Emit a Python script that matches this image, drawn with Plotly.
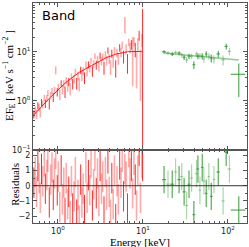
import plotly.graph_objects as go

# ---------------- data ----------------
red_E = [0.52, 0.54, 0.56, 0.58, 0.60, 0.62, 0.64, 0.66, 0.69, 0.71, 0.74, 0.76, 0.79, 0.82, 0.85,
         0.88, 0.91, 0.94, 0.98, 1.01, 1.05, 1.09, 1.13, 1.17, 1.21, 1.25, 1.30, 1.34, 1.39, 1.44,
         1.49, 1.55, 1.60, 1.66, 1.72, 1.78, 1.85, 1.91, 1.98, 2.05, 2.13, 2.20, 2.28, 2.36, 2.45,
         2.54, 2.63, 2.72, 2.82, 2.92, 3.03, 3.13, 3.25, 3.36, 3.48, 3.61, 3.74, 3.87, 4.01, 4.15,
         4.30, 4.46, 4.62, 4.78, 4.95, 5.13, 5.32, 5.51, 5.70, 5.91, 6.12, 6.34, 6.57, 6.80, 7.05,
         7.30, 7.56, 7.83, 8.11, 8.40, 8.70, 9.01, 9.34, 9.67, 9.90]
red_model = [0.52, 0.56, 0.60, 0.64, 0.68, 0.72, 0.77, 0.81, 0.88, 0.93, 1.00, 1.05, 1.13, 1.20, 1.28,
             1.36, 1.44, 1.52, 1.63, 1.72, 1.83, 1.95, 2.06, 2.18, 2.30, 2.42, 2.56, 2.68, 2.82, 2.96,
             3.10, 3.27, 3.40, 3.55, 3.70, 3.85, 4.00, 4.13, 4.28, 4.43, 4.60, 4.75, 4.90, 5.05, 5.25,
             5.45, 5.65, 5.85, 6.05, 6.25, 6.50, 6.70, 6.90, 7.10, 7.30, 7.50, 7.70, 7.90, 8.10, 8.30,
             8.50, 8.70, 8.85, 9.00, 9.15, 9.30, 9.45, 9.60, 9.72, 9.85, 9.95, 10.05, 10.12, 10.18, 10.22,
             10.25, 10.27, 10.28, 10.28, 10.27, 10.25, 10.22, 10.20, 10.17, 10.15]
red_flux = [0.54, 0.66, 0.55, 0.81, 0.75, 0.60, 0.94, 0.86, 1.16, 0.89, 1.14, 1.45, 0.88, 1.30, 1.59,
            1.20, 1.67, 4.30, 1.53, 1.93, 1.37, 2.30, 1.73, 2.26, 1.56, 2.64, 2.01, 2.49, 1.80, 3.12,
            2.27, 2.86, 3.95, 2.34, 3.30, 2.26, 4.29, 3.31, 4.13, 3.02, 5.60, 4.07, 5.52, 4.77, 6.70,
            4.11, 5.76, 8.20, 5.48, 7.20, 5.24, 8.40, 6.63, 7.95, 4.88, 8.85, 6.80, 10.8, 7.44, 5.10,
            9.38, 6.55, 10.7, 4.90, 9.74, 7.46, 12.3, 10.04, 14.0, 8.20, 38.0, 11.6, 6.30, 16.0, 12.4,
            14.3, 11.0, 16.5, 11.6, 5.80, 14.8, 22.0, 6.20, 18.0, 36.0]
red_err = [0.10, 0.11, 0.12, 0.13, 0.13, 0.14, 0.15, 0.15, 0.17, 0.17, 0.19, 0.20, 0.21, 0.22, 0.24,
           0.25, 0.27, 0.80, 0.30, 0.32, 0.33, 0.35, 0.37, 0.39, 0.41, 0.43, 0.46, 0.48, 0.50, 0.53,
           0.55, 0.58, 0.60, 0.63, 0.66, 0.69, 0.72, 0.74, 0.77, 0.80, 0.83, 0.86, 0.90, 0.93, 0.97,
           1.00, 1.05, 1.10, 1.14, 1.20, 1.25, 1.30, 1.35, 1.40, 1.45, 1.50, 1.55, 1.60, 1.66, 1.70,
           1.76, 1.80, 1.86, 1.90, 1.96, 2.00, 2.10, 2.20, 2.30, 2.40, 14.0, 2.60, 2.70, 2.80, 3.00,
           3.20, 9.00, 3.60, 3.80, 4.00, 4.30, 5.00, 5.20, 5.50, 40.0]
red_resid = [0.2, 0.9, -0.4, 1.3, 0.5, -0.8, 1.1, 0.3, 1.6, -0.2, 0.7, 1.9, -1.1, 0.4, 1.2,
             -0.6, 0.8, 2.1, -0.3, 0.6, -1.4, 1.0, -0.9, 0.2, -1.8, 0.5, -1.2, -0.4, -2.0, 0.3,
             -1.5, -0.7, 0.9, -1.9, -0.6, -2.3, 0.4, -1.1, -0.2, -1.6, 1.2, -0.8, 0.7, -0.3, 1.5,
             -1.3, 0.1, 2.0, -0.5, 0.8, -1.0, 1.3, -0.2, 0.6, -1.7, 0.9, -0.6, 1.8, -0.4, -1.9,
             0.5, -1.2, 1.0, -2.2, 0.3, -0.9, 1.4, 0.2, 1.9, -0.7, 1.1, 0.6, -1.5, 2.2, 0.8,
             1.3, -0.5, 1.7, 0.4, -1.3, 1.0, 2.3, -0.8, 1.5, 1.3]
red_resid_err = [1.0] * len(red_E)

green_E = [17.7, 19.7, 22.1, 24.2, 26.6, 28.6, 30.5, 32.6, 34.8, 37.3, 39.7, 42.6, 44.3, 46.8, 49.8,
           52.1, 55.5, 59.6, 63.6, 68.4, 76.9, 87.7, 95.3, 104.0, 134.0]
green_dE = [1.0, 1.0, 1.1, 1.1, 1.2, 1.2, 1.3, 1.3, 1.4, 1.4, 1.5, 1.5, 1.6, 1.6, 1.7,
            1.8, 1.9, 2.0, 2.2, 2.5, 3.5, 4.0, 4.0, 5.0, 26.0]
green_flux = [10.1, 9.5, 9.1, 9.8, 9.5, 8.7, 7.8, 6.9, 8.2, 8.2, 5.5, 9.1, 8.2, 8.4, 8.2,
              7.2, 9.1, 8.2, 7.5, 7.2, 9.1, 6.9, 13.0, 10.3, 3.5]
green_err = [0.8, 0.8, 0.8, 0.9, 0.9, 0.9, 0.9, 1.0, 1.0, 1.0, 1.0, 1.1, 1.1, 1.1, 1.2,
             1.2, 1.2, 1.3, 1.4, 1.4, 1.5, 1.6, 1.8, 1.8, 2.3]
green_model = [9.5, 9.3, 9.1, 9.0, 8.9, 8.8, 8.7, 8.6, 8.5, 8.4, 8.3, 8.2, 8.15, 8.1, 8.0,
               7.95, 7.9, 7.8, 7.7, 7.6, 7.5, 7.35, 7.25, 7.15, 6.9]
green_resid = [0.4, 0.1, 0.1, 0.9, 0.4, 0.6, -0.4, -1.3, 0.1, 0.5, -1.9, 0.8, 1.1, -0.3, 1.2,
               0.3, -0.5, 0.6, -0.7, 0.4, 0.9, -1.0, 2.2, 1.1, -1.6]
green_resid_err = [0.9] * len(green_E)

x_ticks = [1, 10, 100]
x_ticktext = ["10<sup>0</sup>", "10<sup>1</sup>", "10<sup>2</sup>"]
y_ticks = [0.1, 1, 10, 100]
y_ticktext = ["10<sup>−1</sup>", "10<sup>0</sup>", "10<sup>1</sup>", "10<sup>2</sup>"]
r_ticks = [-2, -1, 0, 1, 2]
r_ticktext = ["−2", "−1", "0", "1", "2"]

# ---------------- figure ----------------
RED_S = "rgba(255,0,0,0.85)"
RED_L = "rgba(255,0,0,0.33)"
GRN_S = "rgba(44,150,44,0.8)"
GRN_L = "rgba(44,150,44,0.4)"
HIDDEN = dict(size=1, opacity=0)

fig = go.Figure()

def pick(lst, idx):
    return [lst[i] for i in idx]

n = len(red_E)
strong = [i for i in range(n) if i % 3 == 0]
light = [i for i in range(n) if i % 3 != 0]
gn = len(green_E)
g_strong = [i for i in range(gn) if i % 2 == 0]
g_light = [i for i in range(gn) if i % 2 == 1]

for idx, col, th in [(light, RED_L, 1.6), (strong, RED_S, 1.0)]:
    fig.add_trace(go.Scatter(
        x=pick(red_E, idx), y=pick(red_flux, idx), mode="markers", marker=HIDDEN,
        error_y=dict(type="data", array=pick(red_err, idx), color=col, thickness=th, width=0),
        xaxis="x", yaxis="y", showlegend=False, hoverinfo="skip"))
    fig.add_trace(go.Scatter(
        x=pick(red_E, idx), y=pick(red_resid, idx), mode="markers", marker=HIDDEN,
        error_y=dict(type="data", array=pick(red_resid_err, idx), color=col, thickness=th, width=0),
        xaxis="x2", yaxis="y2", showlegend=False, hoverinfo="skip"))

fig.add_trace(go.Scatter(x=red_E, y=red_model, mode="lines",
                         line=dict(color="rgba(255,0,0,0.9)", width=1.0),
                         xaxis="x", yaxis="y", showlegend=False, hoverinfo="skip"))
fig.add_trace(go.Scatter(x=green_E, y=green_model, mode="lines",
                         line=dict(color="rgba(44,150,44,0.5)", width=1.5),
                         xaxis="x", yaxis="y", showlegend=False, hoverinfo="skip"))

for idx, col in [(g_light, GRN_L), (g_strong, GRN_S)]:
    fig.add_trace(go.Scatter(
        x=pick(green_E, idx), y=pick(green_flux, idx), mode="markers", marker=HIDDEN,
        error_y=dict(type="data", array=pick(green_err, idx), color=col, thickness=1.2, width=0),
        error_x=dict(type="data", array=pick(green_dE, idx), color=col, thickness=1.2, width=0),
        xaxis="x", yaxis="y", showlegend=False, hoverinfo="skip"))
    fig.add_trace(go.Scatter(
        x=pick(green_E, idx), y=pick(green_resid, idx), mode="markers", marker=HIDDEN,
        error_y=dict(type="data", array=pick(green_resid_err, idx), color=col, thickness=1.2, width=0),
        error_x=dict(type="data", array=pick(green_dE, idx), color=col, thickness=1.2, width=0),
        xaxis="x2", yaxis="y2", showlegend=False, hoverinfo="skip"))

TICKFONT = dict(family="DejaVu Sans", size=8, color="#222")
LINE = "#555"
xrange = [-0.294, 2.224]

common_x = dict(type="log", range=xrange, showline=True, linecolor=LINE, linewidth=1,
                mirror="allticks", ticks="inside", ticklen=4, tickcolor=LINE,
                tickvals=x_ticks, showgrid=False, zeroline=False, automargin=False,
                minor=dict(ticks="inside", ticklen=2, tickcolor=LINE, dtick="D1", showgrid=False))

fig.update_layout(
    width=249, height=247,
    margin=dict(l=33, r=2, t=3, b=24, autoexpand=False),
    paper_bgcolor="white", plot_bgcolor="white",
    hovermode=False,
    xaxis=dict(common_x, domain=[0, 1], anchor="y", showticklabels=False, matches="x2"),
    xaxis2=dict(common_x, domain=[0, 1], anchor="y2", ticktext=x_ticktext,
                tickfont=TICKFONT),
    yaxis=dict(type="log", range=[-1, 2], domain=[0.332, 1], anchor="x",
               showline=True, linecolor=LINE, linewidth=1, mirror="allticks",
               ticks="inside", ticklen=4, tickcolor=LINE, tickvals=y_ticks, ticktext=y_ticktext,
               tickfont=TICKFONT, showgrid=False, zeroline=False, automargin=False,
               minor=dict(ticks="inside", ticklen=2, tickcolor=LINE, dtick="D1", showgrid=False)),
    yaxis2=dict(range=[-2.45, 2.35], domain=[0, 0.332], anchor="x2",
                showline=True, linecolor=LINE, linewidth=1, mirror="allticks",
                ticks="inside", ticklen=4, tickcolor=LINE, tickvals=r_ticks, ticktext=r_ticktext,
                tickfont=TICKFONT, showgrid=False, zeroline=False, automargin=False,
                minor=dict(ticks="inside", ticklen=2, tickcolor=LINE, dtick=0.5, showgrid=False)),
    shapes=[dict(type="line", xref="x2 domain", x0=0, x1=1, yref="y2", y0=0, y1=0,
                 line=dict(color="#333", width=1))],
    annotations=[
        dict(text="Band", xref="paper", yref="paper", x=0.033, y=0.945, xanchor="left",
             yanchor="middle", showarrow=False,
             font=dict(family="DejaVu Sans", size=13, color="black")),
        dict(text="EF<sub>E</sub> [ keV s<sup>−1</sup> cm<sup>−2</sup> ]", xref="paper", yref="paper",
             x=-0.112, y=0.668, xanchor="center", yanchor="middle", textangle=-90, showarrow=False,
             font=dict(family="Liberation Serif", size=11, color="black")),
        dict(text="Residuals", xref="paper", yref="paper",
             x=-0.088, y=0.175, xanchor="center", yanchor="middle", textangle=-90, showarrow=False,
             font=dict(family="Liberation Serif", size=11, color="black")),
        dict(text="Energy [keV]", xref="paper", yref="paper",
             x=0.5, y=-0.085, xanchor="center", yanchor="middle", showarrow=False,
             font=dict(family="Liberation Serif", size=11, color="black")),
    ],
)

fig.write_html("out.html", config={"displayModeBar": False, "staticPlot": True},
               post_script="document.body.style.margin='0';document.body.style.overflow='hidden';")
